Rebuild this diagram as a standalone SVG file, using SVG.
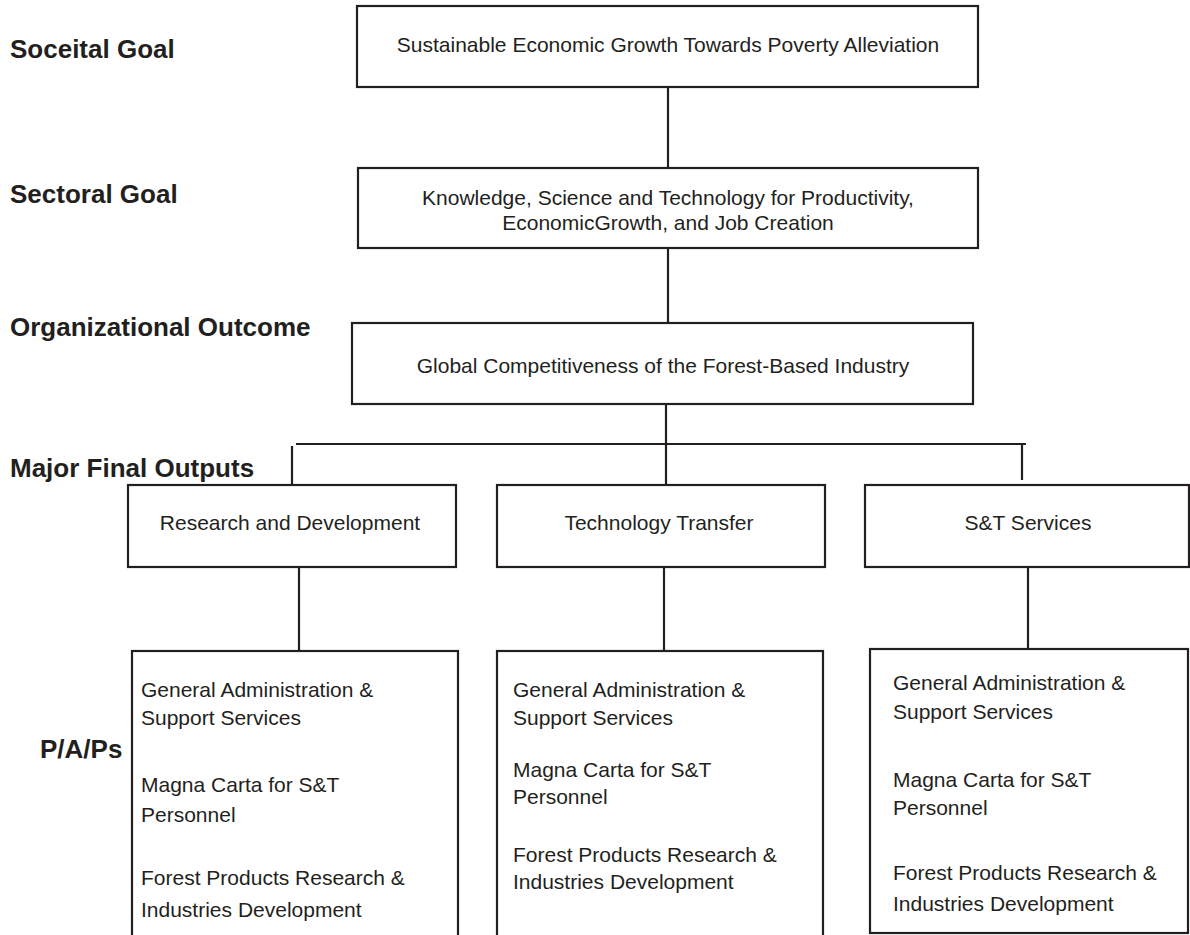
<svg xmlns="http://www.w3.org/2000/svg" width="1190" height="935" viewBox="0 0 1190 935">
<style>
.box{fill:#fff;stroke:#231f20;stroke-width:2.2}
.ln{stroke:#231f20;stroke-width:2.2;fill:none}
.lbl{font-family:"Liberation Sans",Arial,sans-serif;font-weight:bold;font-size:26px;fill:#231f20}
.t{font-family:"Liberation Sans",Arial,sans-serif;font-size:21px;fill:#231f20}
.c{text-anchor:middle}
</style>
<rect width="1190" height="935" fill="#fff"/>
<g id="labels">
<text class="lbl" x="10" y="58">Soceital Goal</text>
<text class="lbl" x="10" y="203">Sectoral Goal</text>
<text class="lbl" x="10" y="336">Organizational Outcome</text>
<text class="lbl" x="10" y="477">Major Final Outputs</text>
<text class="lbl" x="40" y="758">P/A/Ps</text>
</g>
<g id="connectors">
<line class="ln" x1="668" y1="87" x2="668" y2="168"/>
<line class="ln" x1="668" y1="248" x2="668" y2="323"/>
<line class="ln" x1="666" y1="404" x2="666" y2="485"/>
<line class="ln" x1="296" y1="444" x2="1026" y2="444"/>
<line class="ln" x1="292" y1="446" x2="292" y2="485"/>
<line class="ln" x1="1022" y1="444" x2="1022" y2="480"/>
<line class="ln" x1="299" y1="567" x2="299" y2="651"/>
<line class="ln" x1="664" y1="567" x2="664" y2="651"/>
<line class="ln" x1="1028" y1="567" x2="1028" y2="649"/>
</g>
<g id="societal">
<rect class="box" x="357" y="6" width="621" height="81"/>
<text class="t c" x="668" y="52">Sustainable Economic Growth Towards Poverty Alleviation</text>
</g>
<g id="sectoral">
<rect class="box" x="358" y="168" width="620" height="80"/>
<text class="t c" x="668" y="205">Knowledge, Science and Technology for Productivity,</text>
<text class="t c" x="668" y="230">EconomicGrowth, and Job Creation</text>
</g>
<g id="outcome">
<rect class="box" x="352" y="323" width="621" height="81"/>
<text class="t c" x="663" y="373">Global Competitiveness of the Forest-Based Industry</text>
</g>
<g id="rnd">
<rect class="box" x="128" y="485" width="328" height="82"/>
<text class="t c" x="290" y="530">Research and Development</text>
</g>
<g id="tt">
<rect class="box" x="497" y="485" width="328" height="82"/>
<text class="t c" x="659" y="530">Technology Transfer</text>
</g>
<g id="st">
<rect class="box" x="865" y="485" width="324" height="82"/>
<text class="t c" x="1028" y="530">S&amp;T Services</text>
</g>
<g id="pap1">
<rect class="box" x="132" y="651" width="326" height="300"/>
<text class="t" x="141" y="697">General Administration &amp;</text>
<text class="t" x="141" y="725">Support Services</text>
<text class="t" x="141" y="792">Magna Carta for S&amp;T</text>
<text class="t" x="141" y="822">Personnel</text>
<text class="t" x="141" y="885">Forest Products Research &amp;</text>
<text class="t" x="141" y="917">Industries Development</text>
</g>
<g id="pap2">
<rect class="box" x="497" y="651" width="326" height="300"/>
<text class="t" x="513" y="697">General Administration &amp;</text>
<text class="t" x="513" y="725">Support Services</text>
<text class="t" x="513" y="777">Magna Carta for S&amp;T</text>
<text class="t" x="513" y="804">Personnel</text>
<text class="t" x="513" y="862">Forest Products Research &amp;</text>
<text class="t" x="513" y="889">Industries Development</text>
</g>
<g id="pap3">
<rect class="box" x="870" y="649" width="318" height="284"/>
<text class="t" x="893" y="690">General Administration &amp;</text>
<text class="t" x="893" y="719">Support Services</text>
<text class="t" x="893" y="787">Magna Carta for S&amp;T</text>
<text class="t" x="893" y="815">Personnel</text>
<text class="t" x="893" y="880">Forest Products Research &amp;</text>
<text class="t" x="893" y="911">Industries Development</text>
</g>
</svg>
